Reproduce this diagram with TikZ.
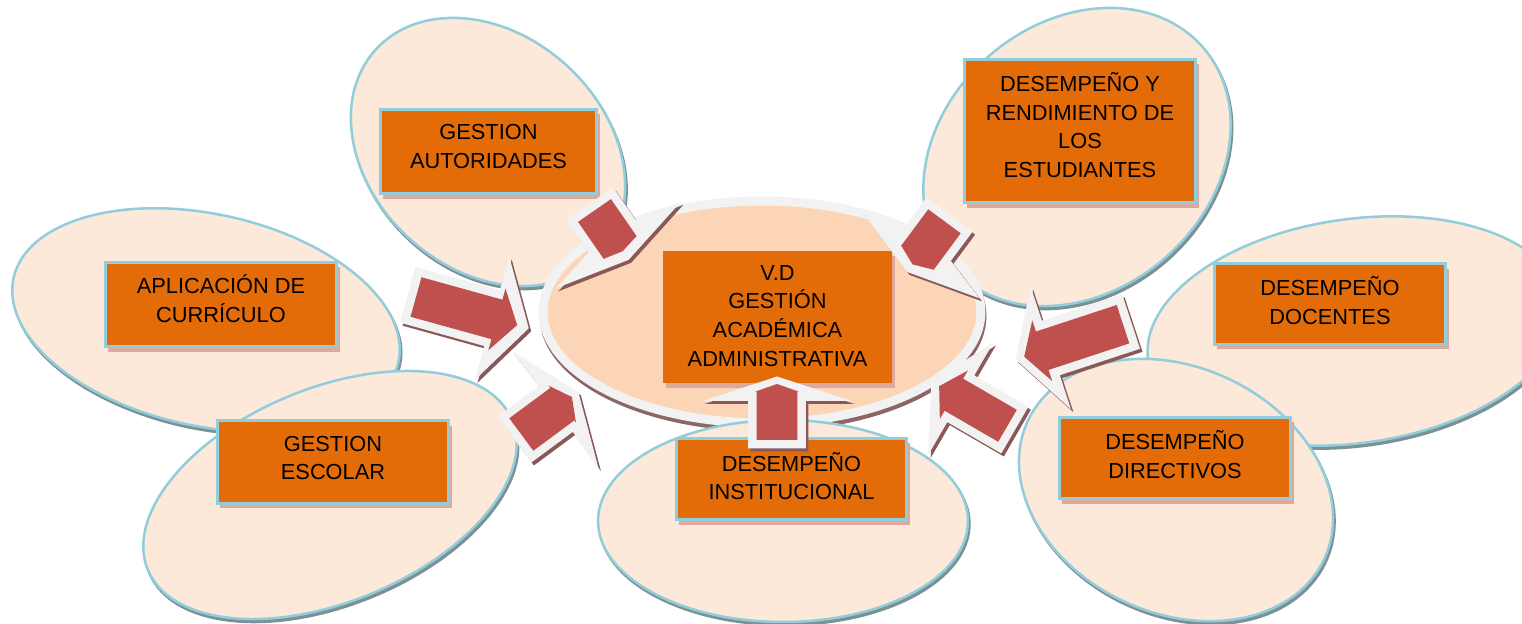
\documentclass[tikz,border=0pt]{standalone}
\usepackage{fontspec}
\setmainfont{Liberation Sans}
\usetikzlibrary{shapes.geometric,shadows,calc}
\definecolor{ellfill}{HTML}{FCE9DA}
\definecolor{ellline}{HTML}{92CDDC}
\definecolor{ellshadow}{HTML}{7C9196}
\definecolor{cfill}{HTML}{FBD5B5}
\definecolor{cline}{HTML}{F2F2F2}
\definecolor{cshadow}{HTML}{8C6666}
\definecolor{boxfill}{HTML}{E36C09}
\definecolor{boxshadow}{HTML}{DFA89C}
\definecolor{arrred}{HTML}{C0504D}
\definecolor{arrline}{HTML}{F2F2F2}
\definecolor{arrshadow}{HTML}{8A5858}
% #1 back, #2 body half width, #3 body end, #4 head corner position, #5 head half width, #6 tip
\newcommand\apoly[6]{(#1,-#2) -- (#3,-#2) -- (#4,-#5) -- (#6,0) -- (#4,#5) -- (#3,#2) -- (#1,#2) -- cycle}
% #1 base coordinate, #2 angle, #3 outline polygon, #4 red polygon
\newcommand\fatarrow[4]{%
  \begin{scope}[shift={(#1)},shift={(2.5,3)},rotate=#2]
    \fill[arrshadow] #3;
  \end{scope}
  \begin{scope}[shift={(#1)},rotate=#2]
    \fill[arrline] #3;
    \fill[arrred] #4;
  \end{scope}}
\begin{document}
\begin{tikzpicture}[x=0.02cm,y=-0.02cm,
  oval/.style={ellipse, inner sep=0pt, outer sep=0pt, fill=ellfill, draw=ellline, line width=0.05cm},
  ovalshadow/.style={ellipse, inner sep=0pt, outer sep=0pt, fill=ellshadow, draw=ellshadow, line width=0.05cm},
  hub/.style={ellipse, inner sep=0pt, outer sep=0pt, fill=cfill, draw=cline, line width=0.18cm},
  hubshadow/.style={ellipse, inner sep=0pt, outer sep=0pt, fill=cshadow, draw=cshadow, line width=0.18cm},
  card/.style={rectangle, inner sep=0pt, outer sep=0pt, fill=boxfill, draw=ellline, line width=0.06cm,
    drop shadow={shadow xshift=0.06cm, shadow yshift=-0.1cm, fill=boxshadow, opacity=1}},
  label/.style={align=center, font=\fontsize{12.4}{16.4}\selectfont, inner sep=0pt, text=black},
]
\useasboundingbox (0,0) rectangle (1522,624);
\fill[white] (0,0) rectangle (1522,624);
\clip (0,0) rectangle (1522,624);

% ellipse centres
\coordinate (c1) at (488,152);
\coordinate (c2) at (206,320);
\coordinate (c3) at (330,495);
\coordinate (c4) at (783,521);
\coordinate (c5) at (1176,490);
\coordinate (c6) at (1355,331);
\coordinate (c7) at (1077,157);
\coordinate (cc) at (762,312);

% outer ellipses
\node[ovalshadow, minimum width=6.08cm, minimum height=4.68cm, rotate=-42.5] (s1) at ($(c1)+(1.5,3)$) {};
\node[oval, minimum width=6.08cm, minimum height=4.68cm, rotate=-42.5] (e1) at (c1) {};
\node[ovalshadow, minimum width=7.88cm, minimum height=4.24cm, rotate=-12.3] (s2) at ($(c2)+(1.5,3)$) {};
\node[oval, minimum width=7.88cm, minimum height=4.24cm, rotate=-12.3] (e2) at (c2) {};
\node[ovalshadow, minimum width=7.88cm, minimum height=4.28cm, rotate=22.3] (s3) at ($(c3)+(1.5,3)$) {};
\node[oval, minimum width=7.88cm, minimum height=4.28cm, rotate=22.3] (e3) at (c3) {};
\node[ovalshadow, minimum width=6.68cm, minimum height=5.36cm, rotate=41] (s7) at ($(c7)+(1.5,3)$) {};
\node[oval, minimum width=6.68cm, minimum height=5.36cm, rotate=41] (e7) at (c7) {};
\node[ovalshadow, minimum width=8.36cm, minimum height=4.48cm, rotate=8] (s6) at ($(c6)+(1.5,3)$) {};
\node[oval, minimum width=8.36cm, minimum height=4.48cm, rotate=8] (e6) at (c6) {};
\node[ovalshadow, minimum width=6.54cm, minimum height=4.92cm, rotate=-25] (s5) at ($(c5)+(1.5,3)$) {};
\node[oval, minimum width=6.54cm, minimum height=4.92cm, rotate=-25] (e5) at (c5) {};

% central ellipse
\node[hubshadow, minimum width=8.76cm, minimum height=4.44cm] (hs) at ($(cc)+(1,4)$) {};
\node[hub, minimum width=8.76cm, minimum height=4.44cm] (hub) at (cc) {};

% bottom ellipse
\node[ovalshadow, minimum width=7.40cm, minimum height=4.04cm] (s4) at ($(c4)+(1.5,3)$) {};
\node[oval, minimum width=7.40cm, minimum height=4.04cm] (e4) at (c4) {};

% boxes
\node[card, minimum width=4.34cm, minimum height=1.70cm] (b1) at (488.5,151.5) {};
\node[card, minimum width=4.64cm, minimum height=1.70cm] (b2) at (221,304.5) {};
\node[card, minimum width=4.64cm, minimum height=1.66cm] (b3) at (333,462) {};
\node[card, minimum width=4.62cm, minimum height=1.64cm] (b4) at (791.5,479) {};
\node[card, draw=none, minimum width=4.58cm, minimum height=2.64cm] (b5) at (777.5,317) {};
\node[card, minimum width=4.64cm, minimum height=2.88cm] (b6) at (1080,131) {};
\node[card, minimum width=4.64cm, minimum height=1.62cm] (b7) at (1330,304) {};
\node[card, minimum width=4.64cm, minimum height=1.64cm] (b8) at (1175,458) {};

\node[label] (t1) at ($(b1.center)+(0,-5)$) {GESTION\\AUTORIDADES};
\node[label] (t2) at ($(b2.center)+(0,-6)$) {APLICACIÓN DE\\CURRÍCULO};
\node[label] (t3) at ($(b3.center)+(0,-4)$) {GESTION\\ESCOLAR};
\node[label] (t4) at ($(b4.center)+(0,-3)$) {DESEMPEÑO\\INSTITUCIONAL};
\node[label] (t5) at ($(b5.center)+(0,-1)$) {V.D\\GESTIÓN\\ACADÉMICA\\ADMINISTRATIVA};
\node[label] (t6) at ($(b6.center)+(0,-6)$) {DESEMPEÑO Y\\RENDIMIENTO DE\\LOS\\ESTUDIANTES};
\node[label] (t7) at ($(b7.center)+(0,-3.5)$) {DESEMPEÑO\\DOCENTES};
\node[label] (t8) at ($(b8.center)+(0,-3.5)$) {DESEMPEÑO\\DIRECTIVOS};

% block arrows (base points)
\coordinate (a1) at (594.5,210.5);
\coordinate (a2) at (416,297);
\coordinate (a3) at (521.3,434.5);
\coordinate (a4) at (777,440);
\coordinate (a5) at (1123,324.2);
\coordinate (a6) at (1007.5,425.8);
\coordinate (a7) at (944.5,221.3);

\fatarrow{a1}{-55.3}{\apoly{-8.5}{28.5}{31}{42}{76}{60}}{\apoly{0}{20}{45}{45}{20}{49.5}}
\fatarrow{a2}{-15.5}{\apoly{-8.5}{29}{79}{79}{64}{117}}{\apoly{0}{20.5}{84}{84}{32}{105}}
\fatarrow{a3}{36.5}{\apoly{-8.5}{28.5}{43}{42}{73}{71}}{\apoly{0}{20.2}{51}{51}{23}{63}}
\fatarrow{a4}{90}{\apoly{-8.5}{28.8}{39}{39}{75}{63.5}}{\apoly{0}{20.3}{48.3}{48.3}{22}{56}}
\fatarrow{a5}{198.2}{\apoly{-8.5}{28.7}{76}{76}{64.5}{113}}{\apoly{0}{20.2}{85}{85}{32}{104}}
\fatarrow{a6}{149.9}{\apoly{-8.5}{27}{54}{54}{65}{88}}{\apoly{0}{18.5}{62}{62}{28}{79}}
\fatarrow{a7}{233.4}{\apoly{-8.5}{28.7}{28}{41}{74}{63}}{\apoly{0}{20.2}{45}{45}{21}{53.7}}
\end{tikzpicture}
\end{document}
